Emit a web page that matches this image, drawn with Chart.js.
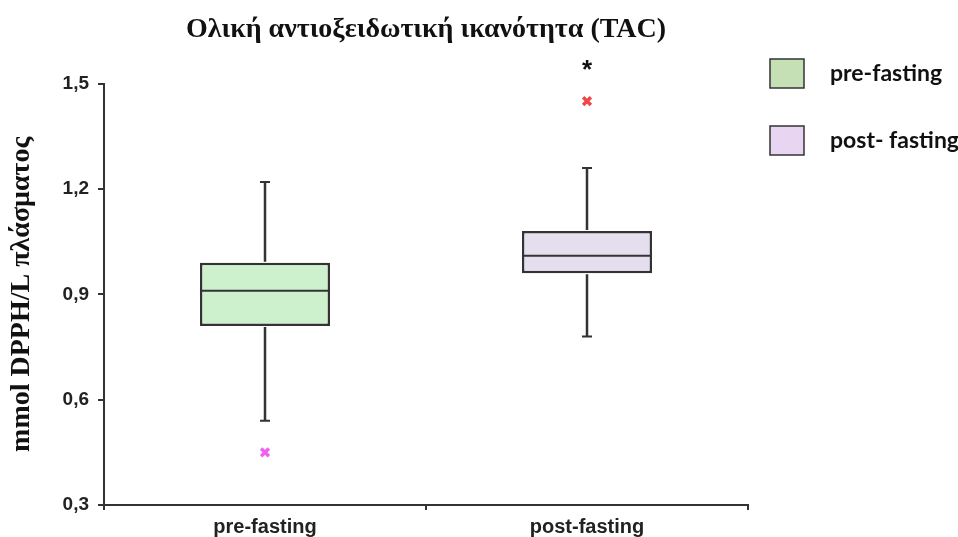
<!DOCTYPE html>
<html>
<head>
<meta charset="utf-8">
<script src="https://cdn.jsdelivr.net/npm/chart.js@4"></script>
<style>
  html, body { margin: 0; padding: 0; background: #ffffff; }
  #wrap { width: 958px; height: 537px; position: relative; }
</style>
</head>
<body>
<div id="wrap"><canvas id="c" width="958" height="537"></canvas></div>
<script>
// ---- data ----
const categories = ['pre-fasting', 'post-fasting'];
const legendLabels = ['pre-fasting', 'post- fasting'];
const whiskerLow = [0.54, 0.78];
const q1 = [0.81, 0.96];
const median = [0.91, 1.01];
const q3 = [0.99, 1.08];
const whiskerHigh = [1.22, 1.26];
const outliers = [0.45, 1.45];
const significance = ['', '*'];
const yTicks = [0.3, 0.6, 0.9, 1.2, 1.5];
const yTickLabels = ['0,3', '0,6', '0,9', '1,2', '1,5'];
const titleText = 'Ολική αντιοξειδωτική ικανότητα (TAC)';
const yTitleText = 'mmol DPPH/L πλάσματος';

// ---- styles ----
const boxFill = ['#cdf1cd', '#e5deef'];
const legendFill = ['#c5e0b4', '#e7d5f1'];
const outlierColors = ['#f060f0', '#f04848'];
const ink = '#333333';

const boxPlotPlugin = {
  id: 'boxPlotExtras',
  afterDatasetsDraw(chart) {
    const ctx = chart.ctx;
    const y = chart.scales.y;
    const meta = chart.getDatasetMeta(0);
    ctx.save();
    ctx.strokeStyle = ink;
    ctx.lineCap = 'butt';
    meta.data.forEach((bar, i) => {
      const x = bar.x;
      const half = bar.width / 2;
      // median
      ctx.lineWidth = 2;
      const ym = y.getPixelForValue(median[i]);
      ctx.beginPath(); ctx.moveTo(x - half, ym); ctx.lineTo(x + half, ym); ctx.stroke();
      // whiskers
      ctx.lineWidth = 2.5;
      const yLo = y.getPixelForValue(whiskerLow[i]);
      const yQ1 = y.getPixelForValue(q1[i]);
      const yQ3 = y.getPixelForValue(q3[i]);
      const yHi = y.getPixelForValue(whiskerHigh[i]);
      ctx.beginPath();
      ctx.moveTo(x, yQ1 + 1); ctx.lineTo(x, yLo);
      ctx.moveTo(x, yQ3 - 1); ctx.lineTo(x, yHi);
      ctx.stroke();
      // caps
      ctx.lineWidth = 2;
      ctx.beginPath();
      ctx.moveTo(x - 5, yLo); ctx.lineTo(x + 5, yLo);
      ctx.moveTo(x - 5, yHi); ctx.lineTo(x + 5, yHi);
      ctx.stroke();
      // significance marker
      if (significance[i]) {
        ctx.fillStyle = '#111';
        ctx.font = 'bold 26px "Liberation Sans", Arial, sans-serif';
        ctx.textAlign = 'center';
        ctx.textBaseline = 'middle';
        ctx.fillText(significance[i], x, y.getPixelForValue(outliers[i]) - 30);
      }
    });
    ctx.restore();
  }
};

const legendPlugin = {
  id: 'sideLegend',
  afterDraw(chart) {
    const ctx = chart.ctx;
    const area = chart.chartArea;
    const x0 = area.right + 22;
    ctx.save();
    legendLabels.forEach((lab, i) => {
      const top = 59 + i * 67;
      ctx.fillStyle = legendFill[i];
      ctx.fillRect(x0, top, 34, 29);
      ctx.strokeStyle = ink;
      ctx.lineWidth = 1.5;
      ctx.strokeRect(x0, top, 34, 29);
      ctx.fillStyle = '#111';
      ctx.font = 'bold 23px Lato, "Open Sans", sans-serif';
      ctx.textAlign = 'left';
      ctx.textBaseline = 'middle';
      ctx.fillText(lab, x0 + 60, top + 15);
    });
    ctx.restore();
  }
};

new Chart(document.getElementById('c'), {
  type: 'bar',
  data: {
    labels: categories,
    datasets: [
      {
        label: 'box',
        data: categories.map((c, i) => [q1[i], q3[i]]),
        backgroundColor: boxFill,
        borderColor: ink,
        borderWidth: 2.5,
        borderSkipped: false,
        barPercentage: 0.404,
        categoryPercentage: 1.0
      },
      {
        type: 'scatter',
        label: 'outliers',
        data: categories.map((c, i) => ({ x: c, y: outliers[i] })),
        pointStyle: 'crossRot',
        pointRadius: 5.5,
        pointBorderWidth: 3.5,
        pointBorderColor: outlierColors,
        pointBackgroundColor: outlierColors
      }
    ]
  },
  options: {
    responsive: false,
    animation: false,
    layout: { padding: { left: 0, right: 210, top: 0, bottom: 0 } },
    plugins: {
      legend: { display: false },
      tooltip: { enabled: false },
      title: {
        display: true,
        text: titleText,
        fullSize: false,
        color: '#111',
        font: { family: '"Liberation Serif", "Times New Roman", serif', size: 28, weight: 'bold' },
        padding: { top: 13, bottom: 37 }
      }
    },
    scales: {
      x: {
        type: 'category',
        offset: true,
        border: { display: true, color: ink, width: 2 },
        grid: { display: true, drawOnChartArea: false, drawTicks: true, tickLength: 5, color: ink, lineWidth: 2, offset: true },
        ticks: {
          color: '#222',
          padding: 5,
          font: { family: '"Liberation Sans", Arial, sans-serif', size: 20, weight: 'bold' }
        },
        afterFit(scale) { scale.height = 32; }
      },
      y: {
        min: 0.3,
        max: 1.5,
        border: { display: true, color: ink, width: 2 },
        grid: { display: true, drawOnChartArea: false, drawTicks: true, tickLength: 6, color: ink, lineWidth: 2 },
        afterBuildTicks(scale) { scale.ticks = yTicks.map(v => ({ value: v })); },
        ticks: {
          color: '#222',
          padding: 9,
          font: { family: '"Liberation Sans", Arial, sans-serif', size: 19, weight: 'bold' },
          callback(value) {
            const k = yTicks.findIndex(t => Math.abs(t - value) < 1e-6);
            return k >= 0 ? yTickLabels[k] : '';
          }
        },
        title: {
          display: true,
          text: yTitleText,
          color: '#111',
          font: { family: '"Liberation Serif", "Times New Roman", serif', size: 28, weight: 'bold' },
          padding: { top: 5, bottom: 0 }
        },
        afterFit(scale) { scale.width = 104; }
      }
    }
  },
  plugins: [boxPlotPlugin, legendPlugin]
});
</script>
</body>
</html>
